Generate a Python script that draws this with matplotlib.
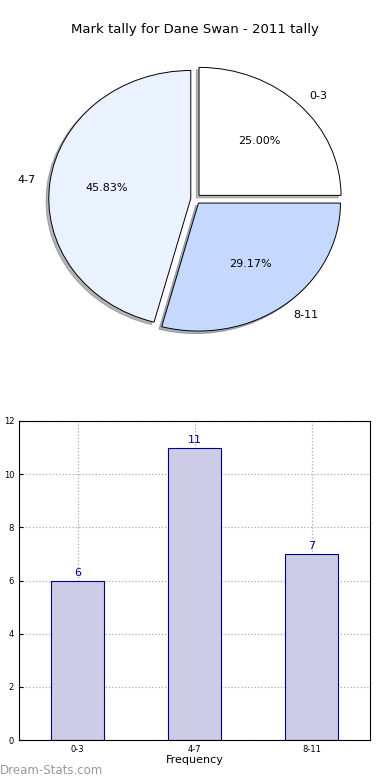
import numpy as np
import matplotlib
matplotlib.use("Agg")
import matplotlib.pyplot as plt

categories = ["0-3", "4-7", "8-11"]
counts = [6, 11, 7]
pie_colors = ["#ffffff", "#eaf1ff", "#c5d9ff"]
explode = [0.04, 0.03, 0.04]

fig = plt.figure(figsize=(3.9, 7.8), dpi=100)

# pie on top
ax1 = fig.add_axes([0.0, 420 / 780.0, 1.0, 310 / 780.0])
wedges, texts, autotexts = ax1.pie(counts, labels=categories, colors=pie_colors,
                                   explode=explode, autopct="%1.2f%%",
                                   shadow={"ox": -0.014, "oy": -0.014, "shade": 0.55},
                                   startangle=0, counterclock=True,
                                   wedgeprops=dict(edgecolor="black", linewidth=0.7),
                                   textprops=dict(fontsize=8))
for t in texts:
    x, y = t.get_position()
    t.set_ha("left" if x > 0 else "right")
ax1.set_aspect("auto")
ax1.set_xlim(-195 / 142.0, 195 / 142.0)
ax1.set_ylim(-(360 - 199) / 128.0, (199 - 50) / 128.0)
ax1.axis("off")
fig.text(0.5, 1 - 30 / 780.0, "Mark tally for Dane Swan - 2011 tally",
         ha="center", va="center", fontsize=9.5)

# bars underneath
ax2 = fig.add_axes([19 / 390.0, 40 / 780.0, 351 / 390.0, 319 / 780.0])
x = np.arange(len(categories))
bars = ax2.bar(x, counts, width=0.45, color="#cccce6", edgecolor="#000080", linewidth=0.8, zorder=2)
for xi, c in zip(x, counts):
    ax2.text(xi, c + 0.1, str(c), ha="center", va="bottom", color="#000080", fontsize=8)
ax2.set_xlim(-0.5, 2.5)
ax2.set_ylim(0, 12)
ax2.set_yticks(range(0, 13, 2))
ax2.set_xticks(x)
ax2.set_xticklabels(categories)
ax2.tick_params(labelsize=6, length=3, direction="in")
ax2.grid(True, linestyle=":", color="#aaaaaa", linewidth=0.9, zorder=2.2)
ax2.set_xlabel("Frequency", fontsize=8, labelpad=1)
ax2.set_ylabel("Stat Intervals", fontsize=8, labelpad=4)

fig.text(0.0, 1 - 770 / 780.0, "Dream-Stats.com", ha="left", va="center",
         fontsize=8.5, color="#999999")

fig.savefig("out.png", dpi=100)
